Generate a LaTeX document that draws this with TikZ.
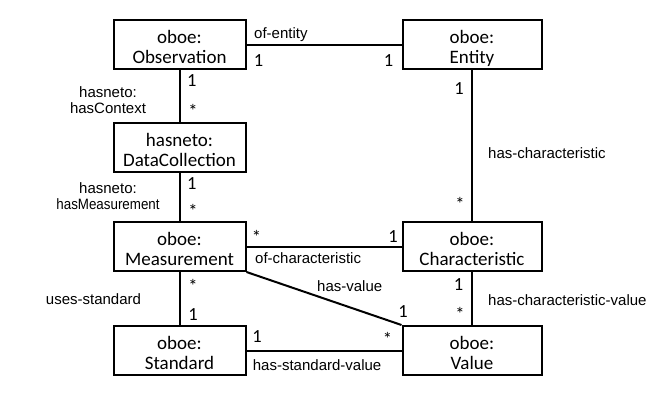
\documentclass[tikz,border=0pt]{standalone}
\usepackage{fontspec}
\usepackage{graphicx}
\setmainfont{Liberation Sans}
\newfontfamily\boxfont{Carlito}
\newcommand\twoline[2]{\rule{0pt}{23pt}#1\\#2\rule[-4.4pt]{0pt}{4.4pt}}
\newcommand\twolbl[2]{\rule{0pt}{12pt}#1\\#2\rule[-4pt]{0pt}{4pt}}
\tikzset{
  umlbox/.style={draw, line width=2pt, minimum width=132pt, minimum height=49pt,
    inner sep=0pt, align=center, font=\boxfont\fontsize{19}{20}\selectfont},
  widebox/.style={minimum width=139pt},
  conn/.style={line width=2pt},
  mult/.style={font=\boxfont\fontsize{18.5}{20}\selectfont, inner sep=0pt, anchor=base},
  lbl/.style={font=\fontsize{15}{16}\selectfont, inner sep=0pt, anchor=base west},
  lbltwo/.style={font=\fontsize{15}{16}\selectfont, inner sep=0pt, align=center},
}
\begin{document}
\begin{tikzpicture}[x=1pt,y=-1pt]
\useasboundingbox[fill=white] (0,0) rectangle (665,402);
% boxes
\node[umlbox] (obs) at (179.5,44.5) {\twoline{oboe:}{Observation}};
\node[umlbox,widebox] (ent) at (472,44.5) {\twoline{oboe:}{Entity}};
\node[umlbox] (dc) at (179.5,147) {\twoline{hasneto:}{DataCollection}};
\node[umlbox] (meas) at (179.5,246.5) {\twoline{oboe:}{Measurement}};
\node[umlbox,widebox] (char) at (472,246.5) {\twoline{oboe:}{Characteristic}};
\node[umlbox] (std) at (179.5,350.5) {\twoline{oboe:}{Standard}};
\node[umlbox,widebox] (val) at (472,350.5) {\twoline{oboe:}{Value}};
% connectors
\draw[conn] (obs.east) -- (ent.west);
\draw[conn] (obs.south) -- (dc.north);
\draw[conn] (dc.south) -- (meas.north);
\draw[conn] (ent.south) -- (char.north);
\draw[conn] (meas.east) -- (char.west);
\draw[conn] (meas.south) -- (std.north);
\draw[conn] (char.south) -- (val.north);
\draw[conn] (std.east) -- (val.west);
\draw[conn] (meas.south east) -- (val.north west);
% connector labels
\node[lbl] (lofent) at (254,38.5) {of-entity};
\node[lbl] (lhaschar) at (488,158.3) {has-characteristic};
\node[lbl] (lofchar) at (255,263.3) {of-characteristic};
\node[lbl] (lhasval) at (317,291.7) {has-value};
\node[lbl] (lhascv) at (488,305) {has-characteristic-value};
\node[lbl] (lhassv) at (252.7,370) {has-standard-value};
\node[lbl,anchor=base] (lusesstd) at (93.5,304) {uses-standard};
\node[lbltwo] (lctx) at (108,101.5) {\twolbl{hasneto:}{hasContext}};
\node[lbltwo] (lmeas) at (108,197.7) {\twolbl{hasneto:}{\scalebox{0.89}[1]{hasMeasurement}}};
% multiplicities
\node[mult] (m1) at (258.5,66.7) {1};
\node[mult] (m2) at (388.5,66.7) {1};
\node[mult] (m3) at (191.7,86) {1};
\node[mult] (m4) at (193,117.9) {*};
\node[mult] (m5) at (459,94.3) {1};
\node[mult] (m6) at (460,210) {*};
\node[mult] (m7) at (191.7,189) {1};
\node[mult] (m8) at (193,217) {*};
\node[mult] (m9) at (256.5,243.5) {*};
\node[mult] (m10) at (393,242.7) {1};
\node[mult] (m11) at (458.5,290) {1};
\node[mult] (m12) at (460,320.2) {*};
\node[mult] (m13) at (403,317.3) {1};
\node[mult] (m14) at (387.5,345.2) {*};
\node[mult] (m15) at (257,342.7) {1};
\node[mult] (m16) at (193,292.5) {*};
\node[mult] (m17) at (193,320) {1};
\end{tikzpicture}
\end{document}
